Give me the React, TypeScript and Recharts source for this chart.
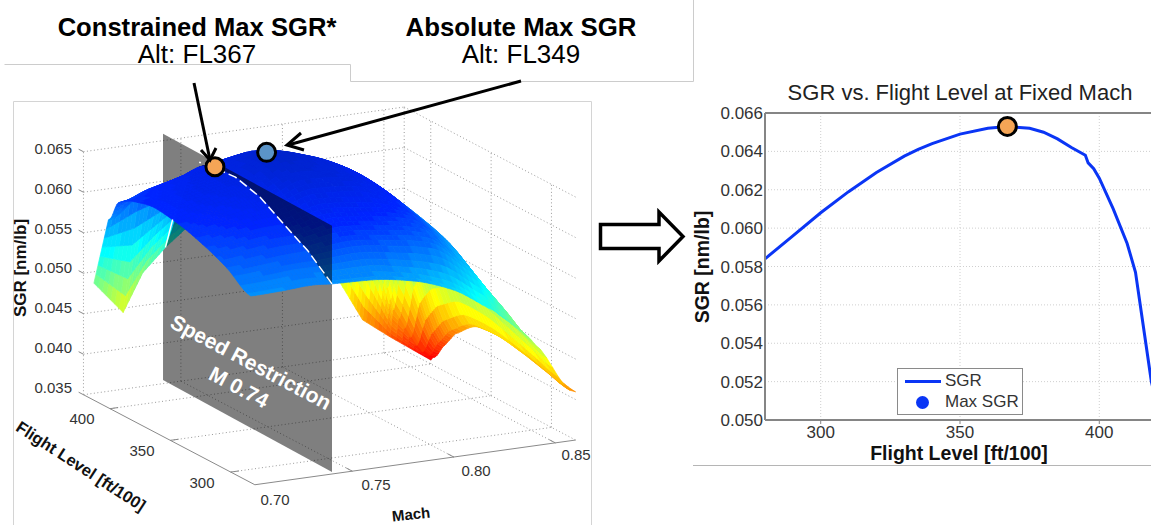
import React from "react";
import {
  ScatterChart, Scatter, XAxis, YAxis,
  ComposedChart, Line, CartesianGrid, ReferenceDot, ReferenceLine, Legend,
} from "recharts";

const W = 1151;
const H = 525;
const FONT = "'Liberation Sans', Arial, sans-serif";

// ---------- surface data: SGR, by Mach row and flight level column
const machRows = [0.7, 0.715, 0.73, 0.74, 0.76, 0.78, 0.8, 0.82, 0.83, 0.84, 0.86];
const flColumns = [280, 300, 320, 340, 360, 380, 390, 398];
const ceilingFL = [410, 411, 420, 418, 415, 412, 410, 408, 406, 400, 400];
const sgrM700 = [0.0585, 0.0604, 0.0617, 0.0626, 0.063, 0.0622, 0.0611, 0.0583, 0.0494];
const sgrM715 = [0.0586, 0.0607, 0.0622, 0.0633, 0.064, 0.0633, 0.0623, 0.061, 0.0451];
const sgrM730 = [0.0588, 0.061, 0.0627, 0.0641, 0.0648, 0.0645, 0.0632, 0.0615, 0.0488];
const sgrM740 = [0.0586, 0.0611, 0.0628, 0.0646, 0.0654, 0.0651, 0.0642, 0.0626, 0.0518];
const sgrM760 = [0.0584, 0.0616, 0.064, 0.0665, 0.0676, 0.0663, 0.0648, 0.0625, 0.0565];
const sgrM780 = [0.05755, 0.061, 0.0635, 0.066, 0.0663, 0.0652, 0.064, 0.062, 0.053];
const sgrM800 = [0.0557, 0.06, 0.0622, 0.0635, 0.0638, 0.0634, 0.0625, 0.0605, 0.052];
const sgrM820 = [0.0524, 0.056, 0.058, 0.059, 0.0597, 0.0602, 0.0595, 0.057, 0.0454];
const sgrM830 = [0.0501, 0.0525, 0.0545, 0.056, 0.0565, 0.0565, 0.0555, 0.0525, 0.0405];
const sgrM840 = [0.04745, 0.049, 0.0505, 0.052, 0.0525, 0.0515, 0.049, 0.042, 0.0385];
const sgrM860 = [0.0408, 0.0415, 0.0422, 0.0426, 0.0423, 0.0398, 0.03735, 0.03544, 0.0349];
const sgrTable = [sgrM700, sgrM715, sgrM730, sgrM740, sgrM760, sgrM780, sgrM800, sgrM820, sgrM830, sgrM840, sgrM860];

const restrictionMach = 0.74;
const restrictionFL = [280, 420];
const restrictionSGR = [0.035, 0.0659];
const constrainedMax = { mach: 0.74, fl: 377, sgr: 0.0653 };
const absoluteMax = { mach: 0.75, fl: 351, sgr: 0.0689 };
const dashCurve = [[280, 0.0586], [300, 0.0611], [320, 0.0628], [340, 0.0646], [360, 0.0654], [380, 0.0651], [390, 0.0648]];
const dashEdge = [[412, 0.0558], [418, 0.0518]];

// 3-D box ticks
const machTicks = [0.75, 0.8, 0.85];
const flTicks = [300, 350, 400];
const sgrTicks = [0.035, 0.04, 0.045, 0.05, 0.055, 0.06, 0.065];
const sgrTickLabels = ["0.035", "0.040", "0.045", "0.050", "0.055", "0.060", "0.065"];
const machTickLabels = ["0.70", "0.75", "0.80", "0.85"];
const flTickLabels = ["300", "350", "400"];
const boxMach = [0.702, 0.86];
const boxFL = [280, 422];

// ---------- right-hand chart
const flSeries = [280, 290, 300, 310, 320, 330, 335, 340, 350, 360, 367, 375, 380, 385, 390, 395, 396, 398, 400, 405, 410, 413, 418.7, 420];
const sgrSeries = [0.0584, 0.0596, 0.0608, 0.0619, 0.0629, 0.06375, 0.0641, 0.0644, 0.0649, 0.0652, 0.0653, 0.0652, 0.065, 0.06465, 0.0642, 0.0638, 0.0634, 0.0631, 0.0626, 0.061, 0.0592, 0.0577, 0.052, 0.0512];
const chartMax = { fl: 367, sgr: 0.0653 };
const xTicks = [300, 350, 400];
const yTicks = [0.05, 0.052, 0.054, 0.056, 0.058, 0.06, 0.062, 0.064, 0.066];
const lineRows = flSeries.map((fl, i) => ({ fl, sgr: sgrSeries[i] }));

// ---------- projection of the 3-D axes on the page
const projX = (m: number, f: number) => 332 + (m - 0.74) * 2030 - (f - 280) * 1.207;
const projY = (m: number, f: number, s: number) => 472 - (m - 0.74) * 283 - (f - 280) * 0.657 - (s - 0.035) * 7970;
const gridY = (m: number, f: number, s: number) => 474 - (m - 0.74) * 283 - (f - 280) * 0.634 - (s - 0.035) * 8100;
const pt = (m: number, f: number, s: number) => ({ x: projX(m, f), y: projY(m, f, s) });
const gpt = (m: number, f: number, s: number) => ({ x: projX(m, f), y: gridY(m, f, s) });

function surfaceColor(s: number) {
  let t = (0.0675 - s) / 0.0365;
  t = Math.round(Math.max(0, Math.min(1, t)) * 64) / 64;
  const c = (v: number) => Math.round(Math.max(0, Math.min(1, v)) * 255);
  if (t < 0.125) return `rgb(0,${c(0.14)},${c(0.8 + (t / 0.125) * 0.2)})`;
  if (t < 0.375) return `rgb(0,${c(0.14 + ((t - 0.125) / 0.25) * 0.86)},255)`;
  if (t < 0.625) return `rgb(${c((t - 0.375) / 0.25)},255,${c(1 - (t - 0.375) / 0.25)})`;
  if (t < 0.875) return `rgb(255,${c(1 - (t - 0.625) / 0.25)},0)`;
  return `rgb(${c(1 - ((t - 0.875) / 0.125) * 0.5)},0,0)`;
}

// Monotone cubic step used only to shade between the table's read values.
function mono(a: number, b: number, c: number, d: number, t: number) {
  const tan = (d0: number, d1: number) => (d0 * d1 <= 0 ? 0 : (2 * d0 * d1) / (d0 + d1));
  const m1 = tan(b - a, c - b);
  const m2 = tan(c - b, d - c);
  const t2 = t * t;
  const t3 = t2 * t;
  return (2 * t3 - 3 * t2 + 1) * b + (t3 - 2 * t2 + t) * m1 + (-2 * t3 + 3 * t2) * c + (t3 - t2) * m2;
}
const clampI = (i: number, n: number) => Math.max(0, Math.min(n - 1, i));
function smoothS(r: number, c: number, u: number, v: number) {
  const sharp = c >= flColumns.length - 1;
  if (sharp) {
    // the top flight-level cells keep the jagged straight edges of the altitude ceiling
    const a = sgrTable[r], b = sgrTable[r + 1];
    const s0 = a[c] * (1 - v) + a[c + 1] * v;
    const s1 = b[c] * (1 - v) + b[c + 1] * v;
    return s0 * (1 - u) + s1 * u;
  }
  const vals = [r - 1, r, r + 1, r + 2].map((ri) => {
    const row = sgrTable[clampI(ri, sgrTable.length)];
    const n = row.length;
    const next = c + 2 >= n - 1 ? row[c + 1] : row[clampI(c + 2, n)];
    return mono(row[clampI(c - 1, n)], row[c], row[c + 1], next, v);
  });
  return mono(vals[0], vals[1], vals[2], vals[3], u);
}

const SUB = 7;
type Quad = { pts: { x: number; y: number }[]; color: string; depth: number; near: boolean };
function buildQuads(): Quad[] {
  const quads: Quad[] = [];
  const vertex = (r: number, c: number, u: number, v: number) => {
    const fAt = (ri: number, ci: number) => (ci === flColumns.length ? ceilingFL[ri] : flColumns[ci]);
    const f0 = fAt(r, c) * (1 - u) + fAt(r + 1, c) * u;
    const f1 = fAt(r, c + 1) * (1 - u) + fAt(r + 1, c + 1) * u;
    return {
      m: machRows[r] * (1 - u) + machRows[r + 1] * u,
      f: f0 * (1 - v) + f1 * v,
      s: smoothS(r, c, u, v),
    };
  };
  for (let r = 0; r < machRows.length - 1; r++) {
    for (let c = 0; c < flColumns.length; c++) {
      for (let i = 0; i < SUB; i++) {
        for (let j = 0; j < SUB; j++) {
          const vs = [
            vertex(r, c, i / SUB, j / SUB),
            vertex(r, c, (i + 1) / SUB, j / SUB),
            vertex(r, c, (i + 1) / SUB, (j + 1) / SUB),
            vertex(r, c, i / SUB, (j + 1) / SUB),
          ];
          const avg = (k: "m" | "f" | "s") => (vs[0][k] + vs[1][k] + vs[2][k] + vs[3][k]) / 4;
          quads.push({
            pts: vs.map((w) => pt(w.m, w.f, w.s)),
            color: surfaceColor(avg("s")),
            depth: 283 * avg("m") + 0.657 * avg("f"),
            near: avg("m") < restrictionMach,
          });
        }
      }
    }
  }
  return quads.sort((a, b) => b.depth - a.depth);
}
const allQuads = buildQuads();
const farQuads = allQuads.filter((q) => !q.near);
const nearQuads = allQuads.filter((q) => q.near);

// Segments of the dotted box
function boxSegments() {
  const seg: { x: number; y: number }[] = [];
  const [m0, m1] = boxMach;
  const [f0, f1] = boxFL;
  const s0 = sgrTicks[0];
  const s1 = sgrTicks[sgrTicks.length - 1];
  const add = (a: { x: number; y: number }, b: { x: number; y: number }) => seg.push(a, b);
  sgrTicks.forEach((s) => {
    add(gpt(m0, f1, s), gpt(m1, f1, s));
    add(gpt(m1, f1, s), gpt(m1, f0, s));
  });
  machTicks.forEach((m) => {
    add(gpt(m, f1, s0), gpt(m, f1, s1));
    add(gpt(m, f0, s0), gpt(m, f1, s0));
  });
  flTicks.forEach((f) => {
    add(gpt(m1, f, s0), gpt(m1, f, s1));
    add(gpt(m0, f, s0), gpt(m1, f, s0));
  });
  add(gpt(m0, f1, s0), gpt(m0, f1, s1));
  add(gpt(m1, f1, s0), gpt(m1, f1, s1));
  return seg;
}
function axisSegments() {
  const seg: { x: number; y: number }[] = [];
  const [m0, m1] = boxMach;
  const [f0, f1] = boxFL;
  const s0 = sgrTicks[0];
  seg.push(gpt(m0, f0, s0), gpt(m1, f0, s0), gpt(m0, f0, s0), gpt(m0, f1, s0));
  machTicks.forEach((m) => seg.push(gpt(m, f0, s0), gpt(m, f0 + 5, s0)));
  flTicks.forEach((f) => seg.push(gpt(m0, f, s0), gpt(m0 + 0.004, f, s0)));
  sgrTicks.forEach((s) => seg.push(gpt(m0, f1, s), gpt(m0, f1 + 4, s)));
  return seg;
}

const noDot = () => <g />;

const segPath = (points: { x: number; y: number }[]) => {
  let d = "";
  for (let i = 0; i + 1 < points.length; i += 2) {
    d += `M${points[i].x},${points[i].y}L${points[i + 1].x},${points[i + 1].y}`;
  }
  return d;
};

const quadLine = (quads: Quad[]) => (props: any) => {
  const p = props.points;
  return (
    <g>
      {quads.map((q, i) => {
        const k = i * 4;
        const str = [0, 1, 2, 3].map((n) => `${p[k + n].x},${p[k + n].y}`).join(" ");
        return <polygon key={i} points={str} fill={q.color} stroke={q.color} strokeWidth={0.7} />;
      })}
    </g>
  );
};

const surfacePoints = (quads: Quad[]) => quads.flatMap((q) => q.pts);

const planePts = [
  pt(restrictionMach, restrictionFL[0], restrictionSGR[0]),
  pt(restrictionMach, restrictionFL[1], restrictionSGR[0]),
  pt(restrictionMach, restrictionFL[1], restrictionSGR[1]),
  pt(restrictionMach, restrictionFL[0], restrictionSGR[1]),
];

const markerShape = (fill: string) => (p: any) => (
  <circle cx={p.cx} cy={p.cy} r={9} fill={fill} stroke="#000" strokeWidth={3} />
);

function Surface3D() {
  return (
    <ScatterChart width={W} height={H} margin={{ top: 0, right: 0, bottom: 0, left: 0 }} style={{ position: "absolute", left: 0, top: 0 }}>
      <XAxis type="number" dataKey="x" domain={[0, W]} hide />
      <YAxis type="number" dataKey="y" domain={[0, H]} reversed hide />
      <Scatter
        data={boxSegments()}
        isAnimationActive={false}
        shape={noDot}
        line={(props: any) => <path d={segPath(props.points)} fill="none" stroke="#9a9a9a" strokeWidth={1} strokeDasharray="1 2.5" />}
      />
      <Scatter
        data={axisSegments()}
        isAnimationActive={false}
        shape={noDot}
        line={(props: any) => <path d={segPath(props.points)} fill="none" stroke="#8a8a8a" strokeWidth={1} />}
      />
      <Scatter data={surfacePoints(farQuads)} isAnimationActive={false} shape={noDot} line={quadLine(farQuads)} />
      <Scatter
        data={planePts}
        isAnimationActive={false}
        shape={noDot}
        line={(props: any) => (
          <polygon points={props.points.map((q: any) => `${q.x},${q.y}`).join(" ")} fill="#000" fillOpacity={0.5} />
        )}
      />
      <Scatter data={surfacePoints(nearQuads)} isAnimationActive={false} shape={noDot} line={quadLine(nearQuads)} />
      <Scatter
        data={dashCurve.map(([f, s]) => pt(restrictionMach, f, s))}
        isAnimationActive={false}
        shape={noDot}
        line={{ stroke: "#fff", strokeWidth: 1.5, strokeDasharray: "9 4", fill: "none" }}
      />
      <Scatter
        data={dashEdge.map(([f, s]) => pt(restrictionMach, f, s))}
        isAnimationActive={false}
        shape={noDot}
        line={{ stroke: "#fff", strokeWidth: 1.4, fill: "none" }}
      />
      <Scatter data={[pt(constrainedMax.mach, constrainedMax.fl, constrainedMax.sgr)]} isAnimationActive={false} shape={markerShape("#f5a556")} />
      <Scatter data={[pt(absoluteMax.mach, absoluteMax.fl, absoluteMax.sgr)]} isAnimationActive={false} shape={markerShape("#5b94c8")} />
    </ScatterChart>
  );
}

const legendContent = () => (
  <div style={{ boxSizing: "border-box", width: 126, height: 47, border: "1.5px solid #8a8a8a", background: "#fff", position: "relative", fontFamily: FONT, fontSize: 17, color: "#333" }}>
    <div style={{ position: "absolute", left: 7, top: 11, width: 36, height: 3, background: "#0a35f5" }} />
    <div style={{ position: "absolute", left: 47, top: 2, lineHeight: "20px" }}>SGR</div>
    <div style={{ position: "absolute", left: 18, top: 27, width: 13, height: 13, borderRadius: 7, background: "#0a35f5" }} />
    <div style={{ position: "absolute", left: 47, top: 23, lineHeight: "20px" }}>Max SGR</div>
  </div>
);

function LinePanel() {
  return (
    <ComposedChart
      width={1155}
      height={H}
      data={lineRows}
      margin={{ top: 113, right: 0, bottom: 75, left: 705 }}
      style={{ position: "absolute", left: 0, top: 0 }}
    >
      <CartesianGrid stroke="#cfcfcf" strokeDasharray="1 2" />
      <XAxis
        type="number"
        dataKey="fl"
        domain={[280, 420]}
        ticks={xTicks}
        height={30}
        tick={{ fontFamily: FONT, fontSize: 17, fill: "#333" }}
        tickSize={4}
        stroke="#858585"
        strokeWidth={2}
        tickLine={{ stroke: "#858585", strokeWidth: 1 }}
        allowDataOverflow
      />
      <YAxis
        type="number"
        domain={[0.05, 0.066]}
        ticks={yTicks}
        width={60}
        interval={0}
        tickFormatter={(v: number) => v.toFixed(3)}
        tick={{ fontFamily: FONT, fontSize: 17, fill: "#333" }}
        tickSize={0}
        stroke="#858585"
        strokeWidth={2}
        allowDataOverflow
      />
      <ReferenceLine y={0.066} stroke="#858585" strokeWidth={2} />
      <Line dataKey="sgr" stroke="#0a35f5" strokeWidth={3} dot={false} isAnimationActive={false} legendType="none" />
      <ReferenceDot x={chartMax.fl} y={chartMax.sgr} r={9} fill="#f5a556" stroke="#000" strokeWidth={3} />
      <Legend
        layout="horizontal"
        verticalAlign="middle"
        align="center"
        content={legendContent}
        wrapperStyle={{ position: "absolute", left: 897, top: 368, width: 126, height: 47, bottom: "auto", right: "auto" }}
      />
    </ComposedChart>
  );
}

const T: React.FC<any> = ({ x, y, size, bold, anchor, fill, rot, children, family }) => (
  <text
    x={x}
    y={y}
    fontFamily={family || FONT}
    fontSize={size}
    fontWeight={bold ? 700 : 400}
    textAnchor={anchor || "middle"}
    dominantBaseline="central"
    fill={fill || "#000"}
    transform={rot ? `rotate(${rot} ${x} ${y})` : undefined}
  >
    {children}
  </text>
);

const sgrLabelY = [387, 347, 307, 267, 228, 188, 148];
const machLabelPos = [[275, 499], [376, 484], [476, 470], [576, 454]];
const flLabelPos = [[202, 482], [142, 450], [82, 418]];

function Overlay() {
  return (
    <svg width={W} height={H} style={{ position: "absolute", left: 0, top: 0 }}>
      {/* callout and panel frames */}
      <path d="M4.5,64.5H350.5V81.5H693.5V0" fill="none" stroke="#cccccc" strokeWidth={1} />
      <path d="M13.5,525V101.5H591.5V525" fill="none" stroke="#d4d4d4" strokeWidth={1} />
      <path d="M693,465.5H1151" fill="none" stroke="#b5b5b5" strokeWidth={1.2} />

      <T x={197} y={27} size={25.6} bold>Constrained Max SGR*</T>
      <T x={197} y={54} size={26}>Alt: FL367</T>
      <T x={521} y={27} size={25.8} bold>Absolute Max SGR</T>
      <T x={521} y={54} size={26}>Alt: FL349</T>

      {/* leader arrows */}
      <g stroke="#000" strokeWidth={3} fill="none">
        <path d="M194,83L210,160" />
        <path d="M201,150L210,160L216,148" />
        <path d="M521,81L288,145" />
        <path d="M301,133L287,145L304,150" />
      </g>

      {/* block arrow */}
      <polygon
        points="600.5,224.5 659,224.5 659,212 683,236.5 659,261 659,248.5 600.5,248.5"
        fill="#fff"
        stroke="#000"
        strokeWidth={3.5}
      />

      {/* 3-D axis text */}
      {sgrTickLabels.map((t, i) => (
        <T key={t} x={72} y={sgrLabelY[i]} size={15} anchor="end" fill="#333">{t}</T>
      ))}
      {machTickLabels.map((t, i) => (
        <T key={t} x={machLabelPos[i][0]} y={machLabelPos[i][1]} size={15} fill="#333">{t}</T>
      ))}
      {flTickLabels.map((t, i) => (
        <T key={t} x={flLabelPos[i][0]} y={flLabelPos[i][1]} size={15} fill="#333">{t}</T>
      ))}
      <T x={20} y={268} size={17} bold rot={-90} fill="#111">SGR [nm/lb]</T>
      <T x={81} y={466} size={16.5} bold rot={33} fill="#111">Flight Level [ft/100]</T>
      <T x={411} y={514} size={15} bold rot={-6} fill="#111">Mach</T>
      <T x={251} y={362} size={21} bold rot={28} fill="#fff">Speed Restriction</T>
      <T x={239} y={387} size={21} bold rot={28} fill="#fff">M 0.74</T>

      {/* line chart text */}
      <T x={960} y={92} size={22} fill="#222">SGR vs. Flight Level at Fixed Mach</T>
      <T x={959} y={453} size={19.5} bold fill="#111">Flight Level [ft/100]</T>
      <T x={702} y={267} size={19.5} bold rot={-90} fill="#111">SGR [nm/lb]</T>
    </svg>
  );
}

export default function App() {
  return (
    <div style={{ position: "absolute", left: 0, top: 0, width: W, height: H, overflow: "hidden", background: "#fff" }}>
      <Surface3D />
      <LinePanel />
      <Overlay />
    </div>
  );
}
